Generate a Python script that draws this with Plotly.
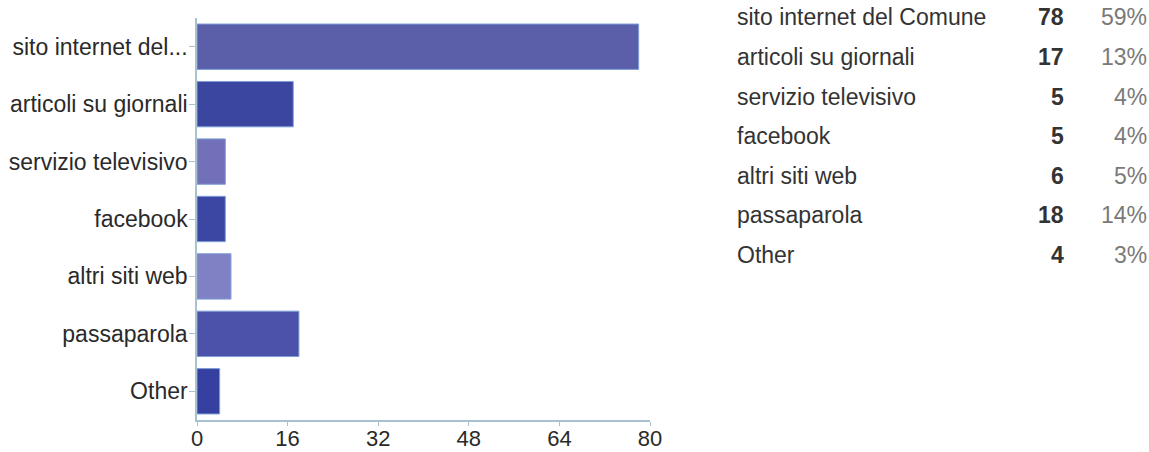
import plotly.graph_objects as go

# Survey answers: how people heard about it
categories = ["sito internet del Comune", "articoli su giornali", "servizio televisivo",
              "facebook", "altri siti web", "passaparola", "Other"]
axis_labels = ["sito internet del...", "articoli su giornali", "servizio televisivo",
               "facebook", "altri siti web", "passaparola", "Other"]
counts = [78, 17, 5, 5, 6, 18, 4]
percents = ["59%", "13%", "4%", "4%", "5%", "14%", "3%"]
x_ticks = [0, 16, 32, 48, 64, 80]

bar_colors = ["#5b5fa9", "#3b46a1", "#7270b9", "#3c47a3", "#8080c5", "#4c52a9", "#3540a1"]

W, H = 1149, 452
plot_left, plot_right = 197, 650
plot_top, plot_bottom = 18, 420
font = "Arial, Liberation Sans, sans-serif"
axis_col = "#a8c2d2"
fs = 23

fig = go.Figure(go.Bar(
    x=counts,
    y=axis_labels,
    orientation="h",
    marker=dict(color=bar_colors, line=dict(color="#7f9fd8", width=1)),
    hoverinfo="x+y",
))

fig.update_layout(
    width=W, height=H,
    margin=dict(l=plot_left, r=W - plot_right, t=plot_top, b=H - plot_bottom, pad=0,
                autoexpand=False),
    paper_bgcolor="white", plot_bgcolor="white",
    showlegend=False,
    bargap=0.21,
    font=dict(family=font, size=fs, color="#2a2a2a"),
    xaxis=dict(range=[0, 80], tickvals=x_ticks, showgrid=False, zeroline=False,
               automargin=False,
               showline=True, linecolor=axis_col, linewidth=1.5,
               ticks="outside", ticklen=4, tickcolor=axis_col,
               ticklabelstandoff=-6,
               tickfont=dict(size=22, color="#2a2a2a")),
    yaxis=dict(autorange="reversed", showgrid=False, zeroline=False,
               automargin=False,
               showline=True, linecolor=axis_col, linewidth=1.5,
               ticks="outside", ticklen=6, tickcolor=axis_col,
               ticklabelstandoff=-3,
               tickfont=dict(size=fs, color="#2a2a2a")),
)

# Summary table on the right: name, count, share
def px_x(px):
    return (px - plot_left) / (plot_right - plot_left)

def px_y(py):
    return (plot_bottom - py) / (plot_bottom - plot_top)

row0, row_step = 17.5, 39.6
for i, (name, n, pct) in enumerate(zip(categories, counts, percents)):
    y = px_y(row0 + i * row_step)
    fig.add_annotation(x=px_x(735), y=y, xref="paper", yref="paper", text=name,
                       showarrow=False, xanchor="left", yanchor="middle",
                       font=dict(family=font, size=fs, color="#333333"))
    fig.add_annotation(x=px_x(1066), y=y, xref="paper", yref="paper", text=f"<b>{n}</b>",
                       showarrow=False, xanchor="right", yanchor="middle",
                       font=dict(family=font, size=fs, color="#333333"))
    fig.add_annotation(x=px_x(1149), y=y, xref="paper", yref="paper", text=pct,
                       showarrow=False, xanchor="right", yanchor="middle",
                       font=dict(family=font, size=fs, color="#7a7a7a"))

fig.write_html("out.html")
